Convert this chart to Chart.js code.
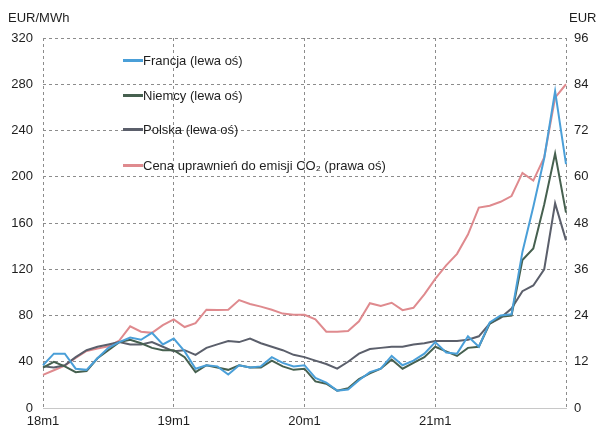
<!DOCTYPE html>
<html lang="pl">
<head>
<meta charset="utf-8">
<script src="https://cdn.jsdelivr.net/npm/chart.js@4"></script>
<style>
  body { margin: 0; background: #fff; }
  #wrap { position: relative; width: 600px; height: 430px; font-family: "Liberation Sans", Arial, sans-serif; color: #1e1e1e; }
  #chart { position: absolute; left: 0; top: 0; }
  .unit { position: absolute; font-size: 13px; line-height: 16px; white-space: nowrap; }
  .legend-item { position: absolute; left: 123px; font-size: 13px; line-height: 16px; white-space: nowrap; }
  .legend-item .swatch { display: inline-block; width: 20px; height: 3px; vertical-align: middle; margin-top: -2px; }
</style>
</head>
<body>
<div id="wrap">
  <canvas id="chart" width="600" height="430"></canvas>
  <div class="unit" style="left:8px; top:10px;">EUR/MWh</div>
  <div class="unit" style="left:569px; top:10px;">EUR</div>
  <div id="legend"></div>
</div>
<script>
// monthly categories 18m1 .. 22m1
const months = [
  "18m1","18m2","18m3","18m4","18m5","18m6","18m7","18m8","18m9","18m10","18m11","18m12",
  "19m1","19m2","19m3","19m4","19m5","19m6","19m7","19m8","19m9","19m10","19m11","19m12",
  "20m1","20m2","20m3","20m4","20m5","20m6","20m7","20m8","20m9","20m10","20m11","20m12",
  "21m1","21m2","21m3","21m4","21m5","21m6","21m7","21m8","21m9","21m10","21m11","21m12",
  "22m1"
];
const shownLabels = ["18m1", "19m1", "20m1", "21m1"];

// EUR/MWh (left axis)
const francja = [
  37, 47, 47, 34, 33, 43, 52, 57, 61, 59, 65, 55,
  60, 49, 34, 37, 36, 29, 37, 35, 36, 44, 39, 36,
  37, 26, 22, 15, 16, 24, 31, 34, 45, 37, 41, 47,
  57, 48, 47, 62, 53, 74, 80, 81, 135, 174, 216, 274,
  211
];
const niemcy = [
  35, 40, 36, 31, 32, 43, 50, 57, 59, 56, 52, 50,
  50, 44, 31, 37, 35, 33, 37, 35, 35, 41, 36, 33,
  34, 23, 21, 15, 17, 25, 30, 34, 42, 34, 39, 44,
  53, 49, 45, 52, 53, 73, 79, 80, 128, 138, 176, 220,
  169
];
const polska = [
  36, 35, 37, 44, 50, 53, 55, 57, 55, 55, 57, 53,
  49, 50, 46, 52, 55, 58, 57, 60, 56, 53, 50, 46,
  44, 41, 38, 34, 40, 47, 51, 52, 53, 53, 55, 56,
  58, 58, 58, 59, 62, 73, 78, 86, 101, 106, 120, 177,
  145
];
// EUR (right axis)
const co2 = [
  8.6, 9.8, 11, 13, 14.8, 15.4, 16, 17.5, 21.2, 19.8, 19.5, 21.5,
  23, 21, 22, 25.5, 25.4, 25.5, 28, 27, 26.3, 25.5, 24.5, 24.2,
  24.2, 23, 19.8, 19.8, 20, 22.5, 27.2, 26.5, 27.3, 25.4, 26, 29.5,
  33.5, 37, 40, 45, 52, 52.5, 53.5, 55, 61, 59, 65, 80.5,
  84
];

const leftTicks = { min: 0, max: 320, step: 40 };
const rightTicks = { min: 0, max: 96, step: 12 };

const series = [
  { label: "Francja (lewa oś)", data: francja, color: "#4a9fd8", axis: "y" },
  { label: "Niemcy (lewa oś)", data: niemcy, color: "#46604f", axis: "y" },
  { label: "Polska (lewa oś)", data: polska, color: "#5b5f6b", axis: "y" },
  { label: "Cena uprawnień do emisji CO₂ (prawa oś)", data: co2, color: "#df8a8e", axis: "y1" }
];

const tickFont = { family: "'Liberation Sans', Arial, sans-serif", size: 13 };
const tickColor = "#1e1e1e";
const gridColor = "#8c8c8c";

// legend drawn as html inside the plot
const legendTops = [53, 88, 122, 158];
const legend = document.getElementById("legend");
series.forEach((s, i) => {
  const item = document.createElement("div");
  item.className = "legend-item";
  item.style.top = legendTops[i] + "px";
  item.innerHTML = `<span class="swatch" style="background:${s.color}"></span>${s.label}`;
  legend.appendChild(item);
});

new Chart(document.getElementById("chart"), {
  type: "line",
  data: {
    labels: months,
    datasets: series.map(s => ({
      label: s.label,
      data: s.data,
      yAxisID: s.axis,
      borderColor: s.color,
      borderWidth: 2,
      pointRadius: 0,
      tension: 0,
      fill: false
    }))
  },
  options: {
    responsive: false,
    animation: false,
    layout: { padding: { top: 38, left: 0, right: 0, bottom: 0 } },
    plugins: {
      legend: { display: false },
      tooltip: { enabled: false }
    },
    scales: {
      x: {
        offset: false,
        grid: {
          color: c => (c.index % 12 === 0 ? gridColor : "transparent"),
          drawTicks: false
        },
        border: { display: true, color: "#c8c8c8", dash: [3, 3] },
        ticks: {
          autoSkip: false,
          maxRotation: 0,
          padding: 6,
          font: tickFont,
          color: tickColor,
          callback: (v, i) => (shownLabels.includes(months[i]) ? months[i] : "")
        },
        afterFit: s => { s.height = 22; }
      },
      y: {
        position: "left",
        min: leftTicks.min,
        max: leftTicks.max,
        ticks: { stepSize: leftTicks.step, padding: 10, font: tickFont, color: tickColor },
        grid: {
          color: c => (c.tick.value === 0 ? "transparent" : gridColor),
          drawTicks: false
        },
        border: { display: false, dash: [3, 3] },
        afterFit: s => { s.width = 43; }
      },
      y1: {
        position: "right",
        min: rightTicks.min,
        max: rightTicks.max,
        ticks: { stepSize: rightTicks.step, padding: 8, font: tickFont, color: tickColor },
        grid: { display: false, drawTicks: false },
        border: { display: false },
        afterFit: s => { s.width = 34; }
      }
    }
  }
});
</script>
</body>
</html>
